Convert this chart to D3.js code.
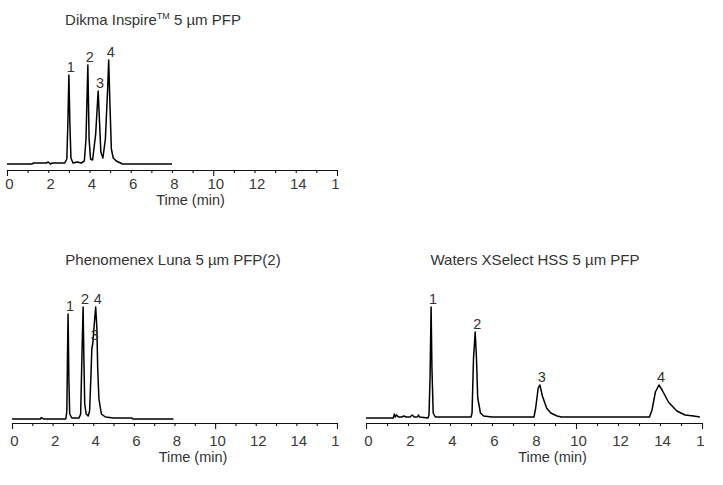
<!DOCTYPE html>
<html>
<head>
<meta charset="utf-8">
<script src="https://cdn.jsdelivr.net/npm/d3@7"></script>
<style>
	body { margin: 0; background: #fff; }
	svg { display: block; font-family: Arial, "Liberation Sans", sans-serif; }
	.tick text { fill: #3a3a3a; }
</style>
</head>
<body>
<div id="chart"></div>
<script>
	// time axis (min), labels every 2, small ticks every 1
	var timeTicks = d3.range(0, 17);
	var majorTicks = [0, 10, 16];

	// traces: [time (min), signal]
	var dikmaTrace = [
		[0, 0], [1.2, 0], [1.3, 1], [1.9, 1], [2.0, 2], [2.1, 0], [2.2, 1], [2.8, 1],
		[2.9, 5], [2.95, 40], [3.0, 89], [3.05, 40], [3.1, 6], [3.2, 1], [3.4, 2], [3.6, 1],
		[3.75, 3], [3.83, 25], [3.92, 99], [3.98, 25], [4.05, 5], [4.15, 4], [4.3, 30],
		[4.42, 73], [4.47, 50], [4.55, 12], [4.65, 6], [4.77, 25], [4.88, 75], [4.93, 104],
		[4.99, 60], [5.06, 15], [5.15, 6], [5.3, 3], [5.5, 1], [5.6, 0], [8.0, 0]
	];
	var lunaTrace = [
		[0, 0], [1.4, 0], [1.45, 1.5], [1.55, 0], [2.65, 0], [2.7, 8], [2.73, 60], [2.76, 105],
		[2.8, 40], [2.84, 5], [2.95, 1], [3.3, 1], [3.38, 5], [3.44, 60], [3.5, 112], [3.54, 60],
		[3.58, 15], [3.65, 5], [3.75, 3], [3.82, 8], [3.88, 40], [3.93, 70], [3.98, 76],
		[4.05, 95], [4.12, 112], [4.18, 90], [4.22, 50], [4.28, 20], [4.4, 5], [4.6, 2],
		[5.0, 1], [5.9, 1], [5.95, 0], [7.95, 0]
	];
	var watersTrace = [
		[0, 0], [1.3, 0], [1.35, 4], [1.4, 1], [1.45, 3], [1.55, 1], [1.7, 1], [1.8, 2],
		[1.9, 1], [2.1, 1], [2.2, 3], [2.3, 1], [2.45, 1], [2.5, 3], [2.55, 1], [2.95, 0],
		[3.0, 3], [3.05, 40], [3.1, 111], [3.14, 50], [3.2, 5], [3.3, 1], [5.0, 1], [5.05, 5],
		[5.12, 60], [5.2, 86], [5.26, 60], [5.32, 20], [5.45, 5], [5.6, 2], [6.0, 1], [8.0, 1],
		[8.08, 10], [8.2, 30], [8.28, 33], [8.4, 22], [8.6, 10], [8.8, 5], [9.1, 2], [9.3, 1],
		[13.5, 1], [13.62, 8], [13.78, 26], [13.95, 33], [14.1, 28], [14.4, 16], [14.8, 7],
		[15.2, 3], [15.6, 2], [15.9, 1]
	];

	// peak numbering: retention time + apex signal
	var peakNames = ["1", "2", "3", "4"];
	var dikmaPeakTimes = [3.0, 3.92, 4.42, 4.93];
	var dikmaPeakHeights = [89, 99, 73, 104];
	var lunaPeakTimes = [2.76, 3.5, 3.98, 4.12];
	var lunaPeakHeights = [105, 112, 76, 112];
	var watersPeakTimes = [3.1, 5.2, 8.28, 13.95];
	var watersPeakHeights = [111, 86, 33, 33];

	var panels = [
		{ title: ["Dikma Inspire", "TM", " 5 µm PFP"], titleX: 153, titleY: 25,
		  x0: 7, x1: 337, base: 164, axisY: 170, labelY: 19, nameY: 205,
		  trace: dikmaTrace, times: dikmaPeakTimes, heights: dikmaPeakHeights },
		{ title: ["Phenomenex Luna 5 µm PFP(2)"], titleX: 173, titleY: 265,
		  x0: 12, x1: 337, base: 419, axisY: 423, labelY: 23, nameY: 462,
		  trace: lunaTrace, times: lunaPeakTimes, heights: lunaPeakHeights },
		{ title: ["Waters XSelect HSS 5 µm PFP"], titleX: 535, titleY: 265,
		  x0: 366, x1: 702, base: 418, axisY: 423, labelY: 23, nameY: 462,
		  trace: watersTrace, times: watersPeakTimes, heights: watersPeakHeights }
	];

	var width = 723, height = 485;
	var svg = d3.select('#chart').append('svg')
		.attr('width', width)
		.attr('height', height);
	svg.append('rect').attr('width', width).attr('height', height).attr('fill', '#fff');

	panels.forEach(function(p, i){
		var x = d3.scaleLinear().domain([0, 16]).range([p.x0, p.x1]);
		var y = d3.scaleLinear().domain([0, 120]).range([p.base, p.base - 120]);

		// title
		var t = svg.append('text')
			.attr('x', p.titleX)
			.attr('y', p.titleY)
			.attr('text-anchor', 'middle')
			.attr('font-size', 15)
			.attr('fill', '#333');
		t.append('tspan').text(p.title[0]);
		if (p.title.length > 1) {
			t.append('tspan').attr('font-size', 9).attr('dy', -6).text(p.title[1]);
			t.append('tspan').attr('dy', 6).text(p.title[2]);
		}

		// the right end of each panel is cut, so "16" only shows its "1"
		// (clip rect is in the axis group's own coordinates)
		svg.append('clipPath').attr('id', 'clip' + i)
			.append('rect')
			.attr('x', p.x0 - 10).attr('y', -5)
			.attr('width', p.x1 - p.x0 + 12).attr('height', 40);

		var axis = d3.axisBottom(x)
			.tickValues(timeTicks)
			.tickSize(3)
			.tickSizeOuter(0)
			.tickFormat(function(d){ return d % 2 ? '' : d; });

		var g = svg.append('g')
			.attr('transform', 'translate(0,' + p.axisY + ')')
			.attr('clip-path', 'url(#clip' + i + ')')
			.call(axis);
		g.select('.domain').attr('stroke', '#111').attr('stroke-width', 1.2);
		g.selectAll('.tick line').attr('stroke', '#111').attr('stroke-width', 1.1)
			.attr('y2', function(d){ return majorTicks.indexOf(d) >= 0 ? 6 : 3; });
		g.selectAll('.tick text')
			.attr('y', p.labelY)
			.attr('dy', null)
			.attr('dx', 2)
			.attr('font-size', 15)
			.attr('font-family', 'Arial, "Liberation Sans", sans-serif');

		svg.append('text')
			.attr('x', x(8) + 18.5)
			.attr('y', p.nameY)
			.attr('text-anchor', 'middle')
			.attr('font-size', 14.5)
			.attr('fill', '#333')
			.text('Time (min)');

		// chromatogram
		var line = d3.line()
			.x(function(d){ return x(d[0]); })
			.y(function(d){ return y(d[1]); });
		svg.append('path')
			.datum(p.trace)
			.attr('d', line)
			.attr('fill', 'none')
			.attr('stroke', '#000')
			.attr('stroke-width', 1.5)
			.attr('stroke-linejoin', 'round');

		// peak numbers
		svg.selectAll(null)
			.data(peakNames)
			.enter()
			.append('text')
			.attr('x', function(d, j){ return x(p.times[j]) + 2; })
			.attr('y', function(d, j){ return y(p.heights[j]) - 3; })
			.attr('text-anchor', 'middle')
			.attr('font-size', 14.5)
			.attr('fill', '#333')
			.text(function(d){ return d; });
	});
</script>
</body>
</html>
